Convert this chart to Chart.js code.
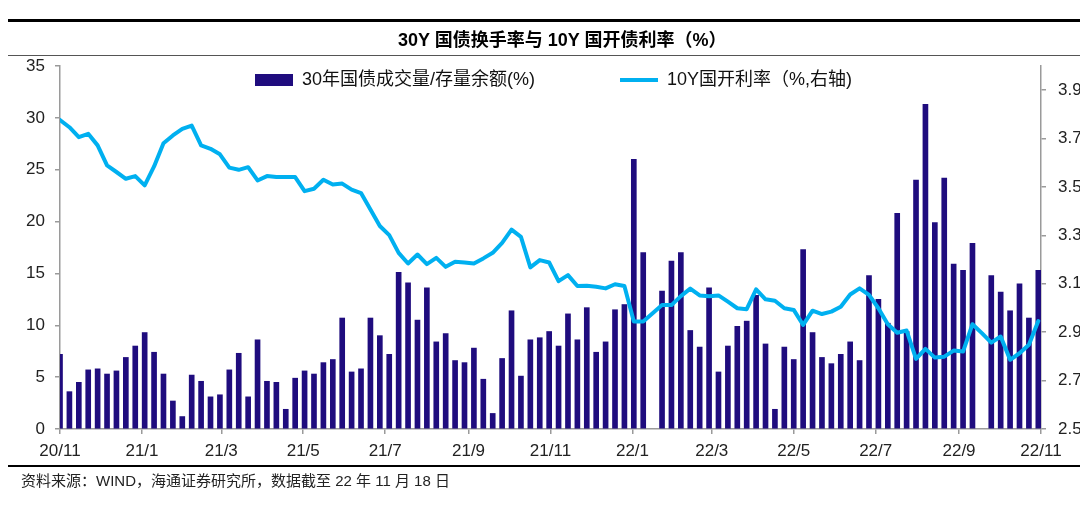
<!DOCTYPE html>
<html>
<head>
<meta charset="utf-8">
<script src="https://cdn.jsdelivr.net/npm/chart.js@4.4.1/dist/chart.umd.min.js"></script>
<style>
  html, body { margin: 0; padding: 0; background: #fff; }
  body { width: 1080px; height: 521px; overflow: hidden; position: relative;
         font-family: 'Liberation Sans', Arial, 'Noto Sans CJK SC', sans-serif; }
  #chart { position: absolute; left: 0; top: 0; }
  .rule { position: absolute; left: 8px; width: 1072px; background: #000; }
  #title { position: absolute; left: 398px; top: 29px; font-size: 18px; font-weight: bold;
           line-height: 22px; color: #000; white-space: nowrap;
           font-family: 'Liberation Sans', Arial, 'Noto Sans CJK SC', sans-serif; }
  #note { position: absolute; left: 21px; top: 471px; font-size: 15px; line-height: 20px;
          color: #222; white-space: nowrap;
          font-family: 'Liberation Sans', Arial, 'Noto Sans CJK SC', sans-serif; }
</style>
</head>
<body>
<canvas id="chart" width="1100" height="521" style="width:1100px;height:521px"></canvas>
<div class="rule" style="top:19px;height:3px"></div>
<div id="title">30Y 国债换手率与 10Y 国开债利率（%）</div>
<div class="rule" style="top:55px;height:1px;background:#555"></div>
<div class="rule" style="top:465px;height:2px"></div>
<div id="note">资料来源：WIND，海通证券研究所，数据截至 22 年 11 月 18 日</div>
<script>
// ---- categories: weekly observation dates ----
const weeks = [
 '2020-11-20','2020-11-27','2020-12-04','2020-12-11','2020-12-18','2020-12-25',
 '2021-01-01','2021-01-08','2021-01-15','2021-01-22','2021-01-29','2021-02-05','2021-02-12','2021-02-19','2021-02-26',
 '2021-03-05','2021-03-12','2021-03-19','2021-03-26','2021-04-02','2021-04-09','2021-04-16','2021-04-23','2021-04-30',
 '2021-05-07','2021-05-14','2021-05-21','2021-05-28','2021-06-04','2021-06-11','2021-06-18','2021-06-25',
 '2021-07-02','2021-07-09','2021-07-16','2021-07-23','2021-07-30','2021-08-06','2021-08-13','2021-08-20','2021-08-27',
 '2021-09-03','2021-09-10','2021-09-17','2021-09-24','2021-10-01','2021-10-08','2021-10-15','2021-10-22','2021-10-29',
 '2021-11-05','2021-11-12','2021-11-19','2021-11-26','2021-12-03','2021-12-10','2021-12-17','2021-12-24','2021-12-31',
 '2022-01-07','2022-01-14','2022-01-21','2022-01-28','2022-02-04','2022-02-11','2022-02-18','2022-02-25',
 '2022-03-04','2022-03-11','2022-03-18','2022-03-25','2022-04-01','2022-04-08','2022-04-15','2022-04-22','2022-04-29',
 '2022-05-06','2022-05-13','2022-05-20','2022-05-27','2022-06-03','2022-06-10','2022-06-17','2022-06-24',
 '2022-07-01','2022-07-08','2022-07-15','2022-07-22','2022-07-29','2022-08-05','2022-08-12','2022-08-19','2022-08-26',
 '2022-09-02','2022-09-09','2022-09-16','2022-09-23','2022-09-30','2022-10-07','2022-10-14','2022-10-21','2022-10-28',
 '2022-11-04','2022-11-11','2022-11-18'
];

// ---- series: 30Y CGB turnover (%), left axis ----
const turnover = [
 7.2,3.6,4.5,5.7,5.8,5.3,5.6,6.9,8.0,9.3,7.4,5.3,2.7,1.2,5.2,4.6,3.1,3.3,5.7,7.3,
 3.1,8.6,4.6,4.5,1.9,4.9,5.6,5.3,6.4,6.7,10.7,5.5,5.8,10.7,9.0,7.2,15.1,14.1,10.5,13.6,
 8.4,9.2,6.6,6.4,7.8,4.8,1.5,6.8,11.4,5.1,8.6,8.8,9.4,8.0,11.1,8.6,11.7,7.4,8.4,11.5,
 12.0,26.0,17.0,null,13.3,16.2,17.0,9.5,7.9,13.6,5.5,8.0,9.9,10.4,12.9,8.2,1.9,7.9,6.7,17.3,
 9.3,6.9,6.3,7.2,8.4,6.6,14.8,12.5,10.2,20.8,9.4,24.0,31.3,19.9,24.2,15.9,15.3,17.9,null,14.8,
 13.2,11.4,14.0,10.7,15.3
];

// ---- series: 10Y CDB yield (%), right axis ----
const cdbYield = [
 3.777,3.747,3.706,3.720,3.672,3.589,3.562,3.534,3.545,3.507,3.585,3.681,3.713,3.740,3.754,3.672,3.658,3.635,3.580,3.571,
 3.582,3.527,3.545,3.541,3.541,3.541,3.483,3.493,3.530,3.510,3.514,3.489,3.475,3.407,3.339,3.301,3.228,3.184,3.221,3.181,
 3.207,3.170,3.191,3.188,3.184,3.205,3.228,3.269,3.324,3.294,3.168,3.198,3.188,3.111,3.136,3.091,3.092,3.088,3.081,3.098,
 3.091,2.944,2.944,2.978,3.012,3.012,3.049,3.080,3.052,3.049,3.052,3.026,2.999,2.995,3.077,3.036,3.030,2.999,2.992,2.930,
 2.989,2.975,2.985,3.005,3.056,3.081,3.054,2.999,2.933,2.898,2.907,2.790,2.831,2.795,2.799,2.824,2.820,2.933,2.896,2.857,
 2.882,2.786,2.813,2.848,2.946
];

// ---- tick labels ----
const xTickDates  = ['2020-11-20','2021-01-20','2021-03-20','2021-05-20','2021-07-20','2021-09-20','2021-11-20',
                     '2022-01-20','2022-03-20','2022-05-20','2022-07-20','2022-09-20','2022-11-20'];
const xTickLabels = ['20/11','21/1','21/3','21/5','21/7','21/9','21/11','22/1','22/3','22/5','22/7','22/9','22/11'];
const leftTicks  = [0,5,10,15,20,25,30,35];
const rightTicks = [2.5,2.7,2.9,3.1,3.3,3.5,3.7,3.9];
const seriesNames = ['30年国债成交量/存量余额(%)', '10Y国开利率（%,右轴)'];

// week position of a date relative to the first observation
const DAY = 86400000;
const t0 = Date.parse(weeks[0]);
const weekPos = d => (Date.parse(d) - t0) / (7 * DAY);
const xTickPos = xTickDates.map(weekPos);
const barData  = turnover.map((v, i) => ({ x: weekPos(weeks[i]), y: v }));
const lineData = cdbYield.map((v, i) => ({ x: weekPos(weeks[i]), y: v }));

const FONT = "'Liberation Sans', Arial, 'Noto Sans CJK SC', sans-serif";
const AXIS = '#9a9a9a';

const legendPlace = {
  id: 'legendPlace',
  beforeDraw(chart) {
    const l = chart.legend;
    if (!l) return;
    const pad = l.options.labels.padding;
    l.left = 255 - pad;
    l.right = chart.chartArea.right;
    l.width = l.right - l.left;
    l.top = 80 - 9 - pad;
    l.bottom = l.top + 2 * pad + 24;
    l.height = l.bottom - l.top;
  }
};

new Chart(document.getElementById('chart'), {
  data: {
    datasets: [
      { type: 'bar', label: seriesNames[0], data: barData, yAxisID: 'y',
        backgroundColor: '#1f0c7e', borderWidth: 0, barThickness: 5, order: 1 },
      { type: 'line', label: seriesNames[1], data: lineData, yAxisID: 'y1',
        borderColor: '#00b0f0', backgroundColor: '#00b0f0', borderWidth: 4,
        pointRadius: 0, tension: 0, borderJoinStyle: 'round', borderCapStyle: 'round',
        spanGaps: true, order: 0 }
    ]
  },
  options: {
    responsive: false,
    animation: false,
    layout: { padding: { top: 65, left: 0, right: 0, bottom: 0 } },
    plugins: {
      tooltip: { enabled: false },
      title: { display: false },
      legend: {
        position: 'top', align: 'start', maxHeight: 1,
        labels: {
          usePointStyle: true, pointStyleWidth: 38, boxHeight: 12, padding: 85,
          color: '#111', font: { family: FONT, size: 18 },
          sort: (a, b) => a.datasetIndex - b.datasetIndex,
          generateLabels(chart) {
            const items = Chart.defaults.plugins.legend.labels.generateLabels(chart);
            items.forEach(it => {
              const ds = chart.data.datasets[it.datasetIndex];
              if (ds.type === 'bar') { it.pointStyle = 'rect'; it.lineWidth = 0; it.fillStyle = ds.backgroundColor; }
              else { it.pointStyle = 'line'; it.lineWidth = 4; it.strokeStyle = ds.borderColor; }
            });
            return items;
          }
        }
      }
    },
    scales: {
      x: {
        type: 'linear', position: 'bottom', offset: false,
        min: 0, max: weekPos(xTickDates[xTickDates.length - 1]),
        afterBuildTicks: s => { s.ticks = xTickPos.map(v => ({ value: v })); },
        afterFit: s => { s.height = 92; },
        ticks: { autoSkip: false, maxRotation: 0, padding: 7, color: '#222',
                 font: { family: FONT, size: 17 }, callback: (v, i) => xTickLabels[i] },
        grid: { display: true, offset: false, drawOnChartArea: false, drawTicks: true, tickLength: 5, color: AXIS, lineWidth: 1.5 },
        border: { display: true, color: AXIS, width: 1.5 }
      },
      y: {
        position: 'left', min: leftTicks[0], max: leftTicks[leftTicks.length - 1],
        afterBuildTicks: s => { s.ticks = leftTicks.map(v => ({ value: v })); },
        afterFit: s => { s.width = 60; },
        ticks: { padding: 10, color: '#222', font: { family: FONT, size: 17 } },
        grid: { display: true, drawOnChartArea: false, drawTicks: true, tickLength: 5, color: AXIS, lineWidth: 1.5 },
        border: { display: true, color: AXIS, width: 1.5 }
      },
      y1: {
        position: 'right', min: 2.5, max: 4.0,
        afterBuildTicks: s => { s.ticks = rightTicks.map(v => ({ value: v })); },
        afterFit: s => { s.width = 59; },
        ticks: { padding: 12, color: '#222', font: { family: FONT, size: 17 }, callback: v => v.toFixed(1) },
        grid: { display: true, drawOnChartArea: false, drawTicks: true, tickLength: 5, color: AXIS, lineWidth: 1.5 },
        border: { display: true, color: AXIS, width: 1.5 }
      }
    }
  },
  plugins: [legendPlace]
});
</script>
</body>
</html>
